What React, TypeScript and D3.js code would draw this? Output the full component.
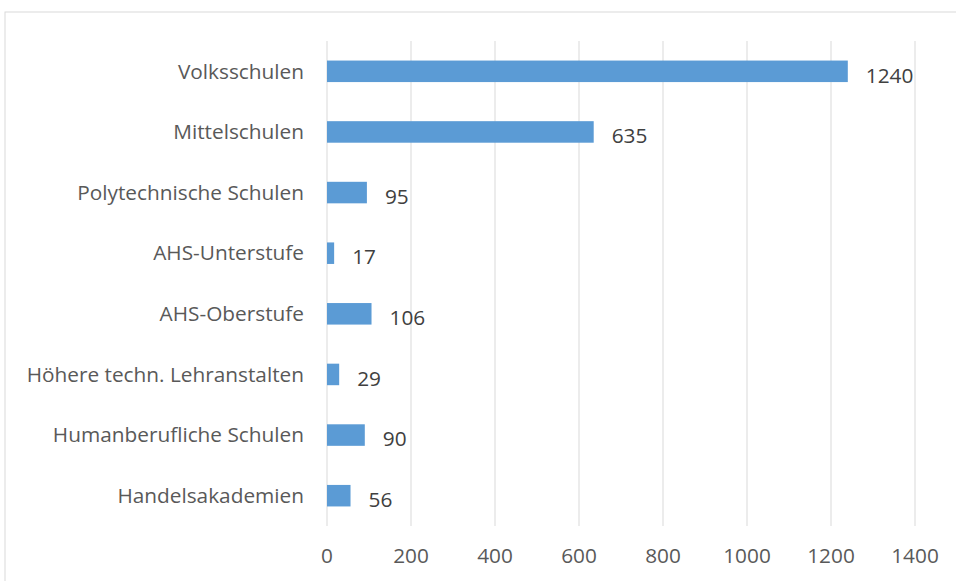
import React from "react";
import * as d3 from "d3";

const categories = [
  "Volksschulen",
  "Mittelschulen",
  "Polytechnische Schulen",
  "AHS-Unterstufe",
  "AHS-Oberstufe",
  "Höhere techn. Lehranstalten",
  "Humanberufliche Schulen",
  "Handelsakademien",
];
const values = [1240, 635, 95, 17, 106, 29, 90, 56];
const ticks = [0, 200, 400, 600, 800, 1000, 1200, 1400];

export default function App() {
  const W = 956, H = 581;
  const x = d3.scaleLinear().domain([0, 1400]).range([327, 915]);
  const y = d3.scaleBand().domain(categories).range([41, 526]).paddingInner(0.645).paddingOuter(0.3225);
  const font = "'Open Sans', sans-serif";
  const fs = 20.8;
  return (
    <svg width={W} height={H} style={{ position: "absolute", left: 0, top: 0 }}>
      <rect x={0} y={0} width={W} height={H} fill="#fff" />
      <rect x={5} y={12} width={W + 10} height={H + 10} fill="none" stroke="#D9D9D9" strokeWidth={1} />
      {ticks.map((t) => (
        <line key={t} x1={x(t)} x2={x(t)} y1={41} y2={526} stroke="#D9D9D9" strokeWidth={1} />
      ))}
      {categories.map((c, i) => (
        <g key={c}>
          <rect x={x(0)} y={y(c)!} width={x(values[i]) - x(0)} height={y.bandwidth()} fill="#5B9BD5" />
          <text x={304} y={y(c)! + y.bandwidth() / 2} dy="0.35em" textAnchor="end" fontFamily={font} fontSize={fs} fill="#595959">{c}</text>
          <text x={x(values[i]) + 18} y={y(c)! + y.bandwidth() / 2 + 4} dy="0.35em" textAnchor="start" fontFamily={font} fontSize={fs} fill="#404040">{values[i]}</text>
        </g>
      ))}
      {ticks.map((t) => (
        <text key={t} x={x(t)} y={556} dy="0.35em" textAnchor="middle" fontFamily={font} fontSize={fs} fill="#595959">{t}</text>
      ))}
    </svg>
  );
}
